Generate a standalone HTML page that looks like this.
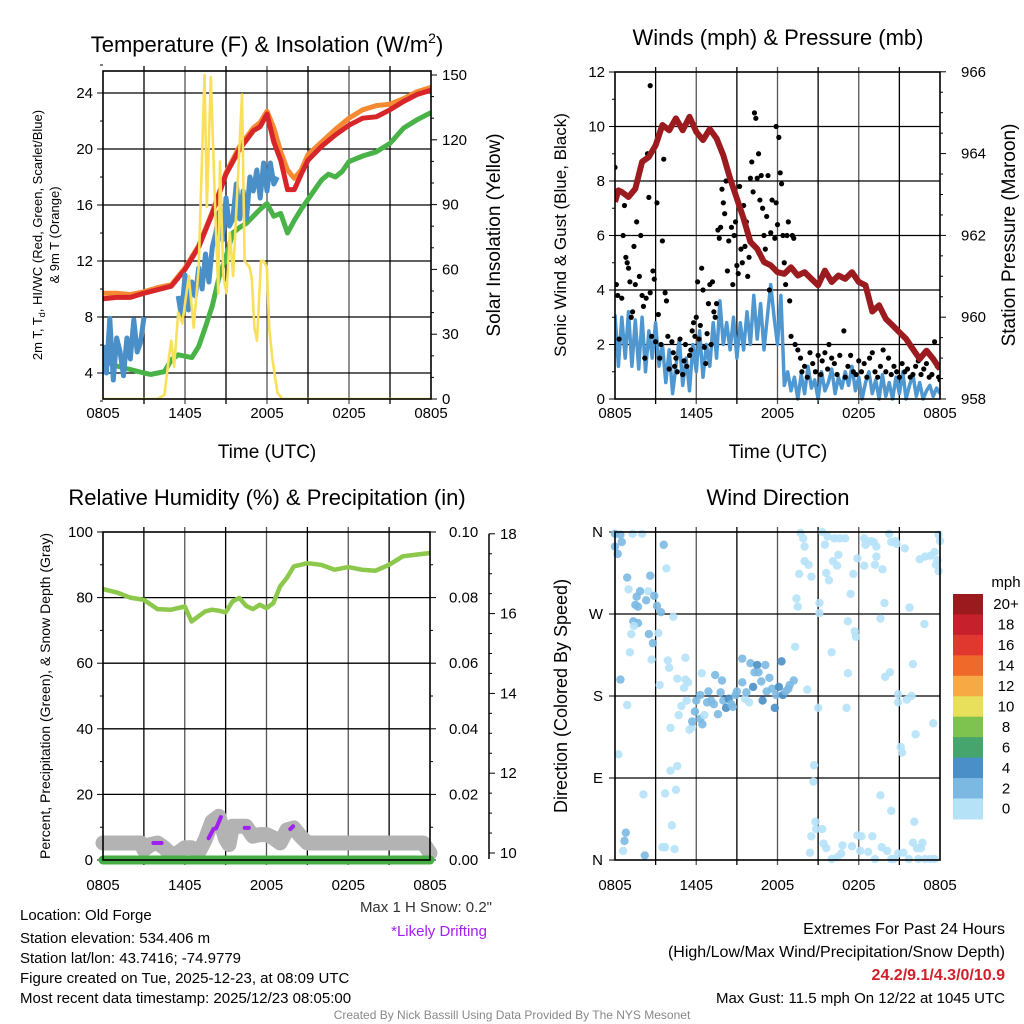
<!DOCTYPE html>
<html><head><meta charset="utf-8">
<style>
html,body{margin:0;padding:0;background:#fff;}
svg{display:block;font-family:"Liberation Sans",Arial,sans-serif;}
</style></head>
<body>
<svg id="fig" width="1024" height="1024" viewBox="0 0 1024 1024" xmlns="http://www.w3.org/2000/svg">
<rect width="1024" height="1024" fill="#fff"/>
<g id="layer"></g>
<!-- titles -->
<text x="267" y="52" font-size="22" text-anchor="middle">Temperature (F) &amp; Insolation (W/m<tspan font-size="14" dy="-9">2</tspan><tspan dy="9">)</tspan></text>
<text x="778" y="45" font-size="22" text-anchor="middle">Winds (mph) &amp; Pressure (mb)</text>
<text x="267" y="505" font-size="22" text-anchor="middle">Relative Humidity (%) &amp; Precipitation (in)</text>
<text x="778" y="505" font-size="22" text-anchor="middle">Wind Direction</text>
<text x="267" y="458" font-size="19" text-anchor="middle">Time (UTC)</text>
<text x="778" y="458" font-size="19" text-anchor="middle">Time (UTC)</text>
<text transform="translate(42,235) rotate(-90)" font-size="13" text-anchor="middle">2m T, T<tspan font-size="9" dy="3">d</tspan><tspan dy="-3">, HI/WC (Red, Green, Scarlet/Blue)</tspan></text>
<text transform="translate(59,235) rotate(-90)" font-size="13" text-anchor="middle">&amp; 9m T (Orange)</text>
<text transform="translate(500,235) rotate(-90)" font-size="19" text-anchor="middle">Solar Insolation (Yellow)</text>
<text transform="translate(566,235) rotate(-90)" font-size="17" text-anchor="middle">Sonic Wind &amp; Gust (Blue, Black)</text>
<text transform="translate(1015,235) rotate(-90)" font-size="19" text-anchor="middle">Station Pressure (Maroon)</text>
<text transform="translate(50,696) rotate(-90)" font-size="14" text-anchor="middle">Percent, Precipitation (Green), &amp; Snow Depth (Gray)</text>
<text transform="translate(567,696) rotate(-90)" font-size="18" text-anchor="middle">Direction (Colored By Speed)</text>
<!-- footer text -->
<g font-size="15" fill="#000">
<text x="20" y="920">Location: Old Forge</text>
<text x="20" y="943">Station elevation: 534.406 m</text>
<text x="20" y="963">Station lat/lon: 43.7416; -74.9779</text>
<text x="20" y="983">Figure created on Tue, 2025-12-23, at 08:09 UTC</text>
<text x="20" y="1003">Most recent data timestamp: 2025/12/23 08:05:00</text>
<text x="492" y="912" text-anchor="end" fill="#333">Max 1 H Snow: 0.2"</text>
<text x="487" y="936" text-anchor="end" fill="#a020f0">*Likely Drifting</text>
<text x="1005" y="934" text-anchor="end" font-size="16">Extremes For Past 24 Hours</text>
<text x="1005" y="957" text-anchor="end" font-size="16">(High/Low/Max Wind/Precipitation/Snow Depth)</text>
<text x="1005" y="980" text-anchor="end" font-size="16" font-weight="bold" fill="#d0202a">24.2/9.1/4.3/0/10.9</text>
<text x="1005" y="1003" text-anchor="end" font-size="15">Max Gust: 11.5 mph On 12/22 at 1045 UTC</text>
</g>
<text x="512" y="1019" text-anchor="middle" font-size="12" fill="#888">Created By Nick Bassill Using Data Provided By The NYS Mesonet</text>
</svg>
<script>
// ---------- DATA ----------
const timeLabels = ["0805","1405","2005","0205","0805"];
// Temperature panel (hours since 0805)
const tempHours = [0,1,2,3,4,5,6,7,8,9,10,11,11.5,12,12.5,13,13.5,14,14.5,15,16,17,18,19,20,21,22,23,24];
const tempRed   = [9.3,9.4,9.4,9.7,9.95,10.2,11.4,13.0,15.4,18.2,20.0,21.3,21.6,22.5,20.5,19.2,17.1,17.1,18.2,19.2,20.2,21.0,21.7,22.2,22.3,22.8,23.4,23.9,24.2];
const temp9m    = [9.7,9.7,9.6,9.8,10.1,10.3,11.5,13.1,15.5,18.3,20.2,21.5,21.9,22.7,21.5,19.8,18.5,17.9,18.5,19.6,20.5,21.4,22.2,22.8,23.1,23.2,23.6,24.1,24.4];
const dewHours  = [0,0.5,1,2,3,3.5,4,4.5,5,5.5,6,6.5,7,7.5,8,8.5,9,9.5,10,10.5,11,11.5,12,12.5,13,13.5,14,14.5,15,15.5,16,16.5,17,17.5,18,19,20,21,22,23,24];
const dewVals   = [4.95,4.7,4.5,4.25,4.0,3.9,4.0,4.1,4.95,5.3,5.2,5.1,5.9,7.3,8.8,10.9,12.3,14.0,14.4,14.7,15.2,15.7,16.1,15.2,15.4,14.0,14.9,15.7,16.4,17.1,17.8,18.2,18.0,18.4,19.1,19.5,19.8,20.4,21.5,22.1,22.6];
const hiwcVals  = [6.0,4.0,7.9,3.5,6.5,5.5,3.8,6.5,5.0,7.8,5.5,6.2,8.0,null,null,null,null,null,null,null,null,null,
  9.5,8.0,11.0,8.5,10.5,9.5,11.5,10.0,12.5,10.5,13.0,14.0,15.5,13.5,16.5,14.5,15.0,17.5,15.0,17.0,15.0,18.0,17.0,18.5,16.5,19.0,17.0,19.0,17.5,18.0];
const hiwcStep = 0.25;
const solarHours = [0,4.0,4.5,4.84,5.0,5.2,5.5,5.8,6.28,6.64,7.0,7.24,7.43,7.6,7.89,8.2,8.44,8.56,8.8,9.04,9.28,9.52,9.88,10.17,10.36,10.72,10.89,11.08,11.27,11.56,11.75,11.99,12.16,12.4,12.76,13.12,24];
const solarVals  = [0,0,2,20,27,15,40,35,57,33,61,110,150,89,149,89,49,110,57,49,77,57,103,141,64,61,56,33,27,64,64,61,33,18,3,0,0];
// Winds panel
const windVals = [3.1,1.2,3.0,1.5,3.2,1.2,2.9,1.1,3.0,1.0,2.5,1.5,2.8,1.2,2.0,0.6,1.8,0.2,1.2,2.2,0.5,1.5,0.3,2.0,
  1.0,2.5,0.8,2.0,1.2,2.8,1.5,3.6,2.0,2.8,1.8,3.0,1.5,2.8,1.8,3.2,2.0,3.8,2.2,3.5,1.8,3.0,4.2,3.0,2.0,3.8,
  0.5,1.0,0.3,0.8,0.0,0.9,0.2,1.2,0.4,0.7,0.0,1.0,0.3,0.6,1.1,0.2,0.8,0.4,1.0,0.5,1.2,0.3,0.8,0.0,0.6,1.0,0.2,0.7,0.0,0.9,0.1,0.6,0.0,0.8,0.2,1.0,0.0,0.5,0.9,0.1,0.6,0.0,0.3,0.5,0.1,0.4,0.2];
const gustHours = [0,0.1,0.2,0.3,0.5,0.6,0.7,0.8,0.9,1.0,1.1,1.2,1.3,1.4,1.5,1.6,1.8,1.9,2.0,2.1,2.2,2.3,2.4,2.5,2.6,2.6,2.7,2.8,2.9,3.0,3.1,3.2,3.3,3.4,3.5,3.6,3.7,3.8,3.9,
 4.0,4.2,4.3,4.4,4.5,4.6,4.8,5.0,5.1,5.2,5.3,5.5,5.6,5.7,5.8,5.9,6.0,6.1,6.2,6.3,6.4,6.5,6.6,6.7,6.8,6.9,7.0,7.1,7.2,7.3,7.4,7.5,
 7.6,7.7,7.8,7.9,8.0,8.1,8.2,8.3,8.4,8.5,8.6,8.7,8.8,8.9,9.0,9.1,9.2,9.3,9.4,9.5,9.6,9.7,9.8,9.9,10.0,10.1,10.2,10.3,10.4,10.5,10.6,10.7,10.8,10.9,11.0,11.1,11.2,11.3,11.4,11.5,11.6,11.8,11.9,11.9,12.0,12.1,12.2,12.3,12.4,12.5,12.6,12.7,12.8,12.9,13.0,13.1,13.2,
 13.3,13.5,13.7,13.8,14.0,14.2,14.4,14.6,14.8,15.0,15.2,15.3,15.5,15.7,15.8,16.0,16.2,16.4,16.6,16.9,17.0,17.2,17.4,17.6,17.8,18.0,18.2,18.4,18.6,18.8,19.0,19.2,19.4,19.6,19.8,20.0,20.2,20.4,20.6,20.8,21.0,21.2,21.4,21.6,21.8,22.0,22.2,22.4,22.6,22.8,23.0,23.2,23.4,23.6,23.8,23.9,24.0];
const gustVals = [8.5,4.2,3.8,2.2,3.7,6.0,7.1,5.2,5.0,4.8,4.3,3.0,3.2,5.6,4.2,6.5,4.5,6.0,3.8,3.4,1.5,3.7,9.0,7.4,3.9,11.5,2.3,4.7,4.4,2.1,7.2,3.1,1.5,2.0,5.8,8.8,3.9,3.6,2.3,
 1.1,2.1,1.7,1.2,1.5,1.0,2.2,0.9,1.4,2.0,1.2,1.6,1.8,2.5,2.8,2.3,3.0,4.3,2.2,2.7,4.8,4.0,1.9,1.3,2.4,3.5,4.2,2.0,4.3,3.2,3.0,3.5,
 6.2,5.9,6.3,7.7,7.2,6.8,8.0,4.7,5.8,8.0,6.3,4.2,6.0,6.5,4.9,4.6,7.8,5.5,5.0,7.1,5.6,6.5,4.5,5.2,8.1,8.7,7.6,10.5,10.3,8.1,9.0,7.3,8.2,7.0,6.0,5.5,6.7,8.2,4.0,6.1,7.3,5.9,7.2,10.0,6.4,9.6,8.3,7.9,6.0,5.0,4.2,6.0,6.5,3.6,2.3,6.0,5.9,
 2.0,1.8,1.5,1.0,1.2,0.8,1.7,1.3,1.0,1.6,0.9,1.4,1.7,1.1,2.0,1.5,1.3,0.9,1.6,2.5,0.8,1.2,1.6,1.0,0.9,1.4,1.0,1.3,0.8,1.5,1.7,1.0,0.8,1.2,1.8,1.0,1.5,0.9,1.2,1.0,0.8,1.3,1.0,1.1,0.8,0.9,1.2,1.4,0.9,1.1,1.3,0.8,0.9,2.1,1.2,0.8,0.7];
const presHours = [0,0.25,0.5,1,1.5,2,2.5,3,3.5,4,4.5,5,5.5,6,6.5,7,7.5,8,8.5,9,9.5,10,10.5,11,11.5,12,12.5,13,13.5,14,14.5,15,15.5,16,16.5,17,17.5,18,18.5,19,19.5,20,20.5,21,21.5,22,22.5,23,23.5,24];
const presVals  = [962.82,963.1,963.06,962.94,963.14,963.8,963.92,964.2,964.7,964.57,964.86,964.57,964.9,964.53,964.33,964.6,964.37,963.96,963.39,962.9,962.41,961.84,961.67,961.35,961.27,961.1,961.06,961.22,961.02,961.1,960.94,960.78,961.14,960.86,961.02,960.94,961.1,960.86,960.78,960.14,960.29,959.96,959.8,959.63,959.47,959.22,958.98,959.18,958.98,958.73];
// RH panel
const rhHours = [0,1,2,3,4,5,6,6.5,7,7.5,8,8.5,9,9.5,10,10.5,11,11.5,12,12.5,13,13.5,14,14.5,15,16,17,18,19,20,21,22,23,24];
const rhVals  = [82.6,81.6,80.0,79.3,76.5,76.3,77.3,72.7,74.3,75.8,76.3,76.0,75.5,78.8,79.9,77.5,76.5,77.8,76.8,78.3,83.4,86.0,89.5,90.0,90.5,90.0,88.5,89.3,88.5,88.2,90.0,92.6,93.1,93.6];
const precipHours = [0,24];
const precipVals  = [0,0];
const snowHours = [0,2.8,3,3.5,4,4.5,5,5.5,6,6.5,7,7.5,8,8.5,9,9.25,9.5,10,10.5,11,11.5,12,12.5,13,13.5,14,14.5,15,23.5,24];
const snowVals  = [10.25,10.25,10.08,10.21,10.25,10.13,9.96,10.0,10.13,10.13,10.0,10.33,10.79,10.92,10.35,10.21,10.67,10.67,10.67,10.42,10.46,10.46,10.38,10.25,10.58,10.63,10.42,10.25,10.25,10.0];
const driftSegHours = [[3.7,4.3],[7.75,8.1,8.3,8.65],[10.4,10.7],[13.75,13.95]];
const driftSegVals  = [[10.25,10.25],[10.37,10.6,10.62,10.9],[10.63,10.63],[10.6,10.67]];
// Wind direction panel
const dirHours = [0,0.4,0.5,0,0.2,1.3,2.0,3.6,3.8,0.9,2.6,1.0,1.85,1.6,2.46,2.9,2.3,1.5,1.7,3.1,3.4,4.3,1.35,1.7,1.4,1.2,2.5,3.2,2.8,1.1,2.7,0.4,0.9,0.25,3.3,3.9,4.0,5.2,4.6,5.2,5.4,5.1,6.4,
 5.3,4.9,4.7,4.1,5.5,5.7,5.7,5.9,6.0,6.3,6.45,6.3,6.6,6.8,6.9,7.1,7.3,7.4,7.6,7.8,7.9,8.0,8.2,8.4,8.6,8.7,9.0,8.9,9.4,9.4,9.6,9.7,9.9,10.0,10.2,10.3,10.5,10.6,10.8,10.9,11.1,11.2,11.4,11.6,11.8,11.9,12.1,12.3,12.4,12.6,12.8,12.9,13.2,13.3,14.2,15.0,17.1,16.0,17.2,
 13.7,13.9,14.0,14.0,14.3,13.6,14.5,13.4,13.5,15.3,15.5,15.7,16.2,16.6,17.0,16.5,16.1,16.4,15.6,15.8,15.1,15.1,17.4,17.9,17.6,18.4,18.5,18.4,18.9,19.1,19.3,19.3,19.2,19.75,19.9,19.6,20.25,20.4,20.7,20.8,21.4,21.75,22.5,22.9,23.3,23.6,23.8,23.9,24,23.7,23.9,22.85,17.2,17.7,17.8,
 20.3,19.95,20.9,20.9,21.55,21.9,22.0,22.2,23.5,21.1,21.2,14.7,14.65,19.6,20.4,22.1,
 14.8,14.85,15.3,14.5,14.4,15.4,15.6,16.0,16.4,16.7,16.8,17.5,17.9,18.2,18.1,18.7,19.0,19.2,19.7,20.1,20.4,20.9,21.3,21.7,22.0,22.3,22.4,22.7,22.6,22.9,23.3,23.6,20.6,
 0.8,0.7,0.6,2.2,3.5,3.7,4.4,2.1,3.7,4.5,4.2,4.1,4.6];
const dirDegs = [358,357,349,344,336,358,358,346,320,310,312,297,295,289,295,290,285,280,278,279,272,267,262,260,257,248,248,249,238,228,220,198,170,116,192,219,211,222,199,198,195,189,205,
 175,169,159,145,143,146,152,163,175,181,149,155,159,173,185,175,171,203,160,184,197,175,167,177,171,168,185,181,195,221,177,184,173,216,190,206,214,206,196,175,214,185,200,188,167,181,190,218,181,185,188,192,197,234,187,167,167,228,205,
 359,353,344,328,324,314,311,287,278,360,346,355,353,353,353,335,328,323,315,307,282,271,292,331,314,353,346,323,350,349,344,333,324,319,282,265,358,349,350,347,342,277,330,333,334,338,329,357,350,324,317,259,262,251,245,
 206,201,182,173,176,180,215,138,150,124,118,104,86,71,54,42,
 42,34,34,26,8,18,13,1,3,7,16,15,27,26,10,9,26,1,14,10,1,7,8,1,19,13,1,19,13,1,1,1,1,
 30,21,10,5,14,14,12,72,73,77,38,98,103];
const dirSpeeds = [3,3,3,3,3,1,1,3,1,3,3,1,3,3,1,3,3,3,3,3,3,1,3,3,1,1,3,1,3,1,1,3,1,1,1,1,1,1,1,1,1,1,1,
 1,1,1,1,1,1,3,3,3,3,3,3,1,3,3,3,3,3,3,3,3,3,5,5,3,3,3,3,3,3,1,3,1,3,5,3,5,3,3,5,3,3,3,3,5,3,5,5,5,3,3,3,3,1,1,1,1,1,1,
 1,1,1,1,1,1,1,1,1,1,1,1,1,1,1,1,1,1,1,1,1,1,1,1,1,1,1,1,1,1,1,1,1,1,1,1,1,1,1,1,1,1,1,1,1,1,1,1,1,1,1,1,1,1,1,
 1,1,1,1,1,1,1,1,1,1,1,1,1,1,1,1,
 1,1,1,1,1,1,1,1,1,1,1,1,1,1,1,1,1,1,1,1,1,1,1,1,1,1,1,1,1,1,1,1,1,
 3,3,1,3,1,1,1,1,1,1,1,1,1];
const speedBins   = [0,2,4,6,8,10,12,14,16,18,20];
const speedLabels = ["0","2","4","6","8","10","12","14","16","18","20+"];
const speedColors = ["#b6e2f8","#7bb9e3","#4a8fc7","#46a46d","#7ec24f","#e8df5a","#f7a943","#ef6a2a","#e0382f","#c5202b","#9a1a1e"];

// ---------- DRAWING ----------
const NS = "http://www.w3.org/2000/svg";
const layer = document.getElementById('layer');
function mk(tag, attrs, parent){
  const e = document.createElementNS(NS, tag);
  for (const k in attrs) e.setAttribute(k, attrs[k]);
  (parent||layer).appendChild(e);
  return e;
}
function txt(x,y,s,size,anchor,parent){
  const t = mk('text',{x:x,y:y,'font-size':size,'text-anchor':anchor||'middle'},parent);
  t.textContent = s;
  return t;
}
function linePath(xs, ys, sx, sy){
  let d = '', pen = false;
  for (let i=0;i<xs.length;i++){
    if (ys[i]===null || ys[i]===undefined){ pen=false; continue; }
    d += (pen?'L':'M') + sx(xs[i]).toFixed(1) + ',' + sy(ys[i]).toFixed(1);
    pen = true;
  }
  return d;
}
function frame(L,T,R,B,hGrid,name){
  const g = mk('g',{});
  
  
  for (let i=1;i<8;i++){
    const x = L + (R-L)*i/8;
    mk('line',{x1:x,y1:T-5,x2:x,y2:B+5,stroke:(i%2?'#000':'#555'),'stroke-width':1.3},g);
  }
  hGrid.forEach(y=>mk('line',{x1:L,y1:y,x2:R,y2:y,stroke:'#000','stroke-width':1.3},g));
  return g;
}
function border(L,T,R,B){
  mk('rect',{x:L,y:T,width:R-L,height:B-T,fill:'none',stroke:'#000','stroke-width':1.6});
}
function xLabels(L,R,y){
  timeLabels.forEach((s,i)=>{
    const t = txt(L+(R-L)*i/4, y, s, 15);
    
    
  });
}

// Panel 1: temperature
(function(){
  const L=103,R=431,T=71,B=399;
  const sx = h => L + (R-L)*h/24;
  const sy = v => 373 - (v-4)*14;
  const sr = w => 399 - w*(324/150);
  const grid = [4,8,12,16,20,24].map(sy);
  frame(L,T,R,B,grid,'temp-grid');
  for (let v=4; v<=24; v+=4){
    mk('line',{x1:L-6,y1:sy(v),x2:L,y2:sy(v),stroke:'#000'});
    const t = txt(L-10, sy(v)+5, String(v), 15, 'end');
    
    
  }
  for (let v=2; v<=26; v+=2){ if (v%4) mk('line',{x1:L-3,y1:sy(v),x2:L,y2:sy(v),stroke:'#000'}); }
  for (let w=0; w<=150; w+=10){
    const maj = w%30===0;
    mk('line',{x1:R,y1:sr(w),x2:R+(maj?6:3),y2:sr(w),stroke:'#000'});
    if (maj){
      const t = txt(R+11, sr(w)+5, String(w), 15, 'start');
      
      
    }
  }
  const clip = mk('clipPath',{id:'c1'}); mk('rect',{x:L,y:T,width:R-L,height:B-T},clip);
  const g = mk('g',{'clip-path':'url(#c1)'});
  const p1 = mk('path',{d:linePath(tempHours,temp9m,sx,sy),fill:'none',stroke:'#f58a33','stroke-width':5,'stroke-linejoin':'round'},g);
   
  const p2 = mk('path',{d:linePath(tempHours,tempRed,sx,sy),fill:'none',stroke:'#d7262a','stroke-width':5,'stroke-linejoin':'round'},g);
   
  const p3 = mk('path',{d:linePath(dewHours,dewVals,sx,sy),fill:'none',stroke:'#49b347','stroke-width':5,'stroke-linejoin':'round'},g);
   
  const hh = hiwcVals.map((v,i)=>i*hiwcStep);
  const p4 = mk('path',{d:linePath(hh,hiwcVals,sx,sy),fill:'none',stroke:'#4a8fc7','stroke-width':5,'stroke-linejoin':'round'},g);
   
  const p5 = mk('path',{d:linePath(solarHours,solarVals,sx,sr),fill:'none',stroke:'#f9e05a','stroke-width':2.6,'stroke-linejoin':'round'},g);
   
  border(L,T,R,B);
  xLabels(L,R,418);
})();

// Panel 2: winds
(function(){
  const L=615,R=940,T=72,B=399;
  const sx = h => L + (R-L)*h/24;
  const sy = v => B - v*27.25;
  const sp = p => B - (p-958)*40.9;
  const grid = [2,4,6,8,10].map(sy);
  frame(L,T,R,B,grid,'wind-grid');
  for (let v=0; v<=12; v+=2){
    mk('line',{x1:L-6,y1:sy(v),x2:L,y2:sy(v),stroke:'#000'});
    if (v<12) mk('line',{x1:L-3,y1:sy(v+1),x2:L,y2:sy(v+1),stroke:'#000'});
    const t = txt(L-10, sy(v)+5, String(v), 15, 'end');
    
    
  }
  for (let p=958; p<=966; p+=0.5){
    const maj = Math.abs(p%2)<0.01;
    mk('line',{x1:R,y1:sp(p),x2:R+(maj?6:3),y2:sp(p),stroke:'#000'});
    if (maj){
      const t = txt(R+21, sp(p)+5, String(p), 15, 'start');
      
      
    }
  }
  const clip = mk('clipPath',{id:'c2'}); mk('rect',{x:L,y:T,width:R-L,height:B-T+2},clip);
  const g = mk('g',{'clip-path':'url(#c2)'});
  const wh = windVals.map((v,i)=>i*24/(windVals.length-1));
  const pw = mk('path',{d:linePath(wh,windVals,sx,sy),fill:'none',stroke:'#4f97d0','stroke-width':3.5,'stroke-linejoin':'round'},g);
   
  gustHours.forEach((h,i)=>{
    const c = mk('circle',{cx:sx(h),cy:sy(gustVals[i]),r:2.6,fill:'#000'},g);
    
    
  });
  const pp = mk('path',{d:linePath(presHours,presVals,sx,sp),fill:'none',stroke:'#9b1b1e','stroke-width':6,'stroke-linejoin':'round'},g);
   
  border(L,T,R,B);
  xLabels(L,R,418);
})();

// Panel 3: RH
(function(){
  const L=103,R=430,T=532,B=860;
  const sx = h => L + (R-L)*h/24;
  const sy = v => B - v*3.28;
  const ss = s => 853 - (s-10)*39.9;
  const grid = [20,40,60,80].map(sy);
  frame(L,T,R,B,grid,'rh-grid');
  for (let v=0; v<=100; v+=10){
    const maj = v%20===0;
    mk('line',{x1:L-(maj?6:3),y1:sy(v),x2:L,y2:sy(v),stroke:'#000'});
    mk('line',{x1:R,y1:sy(v),x2:R+(maj?6:3),y2:sy(v),stroke:'#000'});
    if (maj){
      const t = txt(L-10, sy(v)+5, String(v), 15, 'end');
       
      const t2 = txt(R+19, sy(v)+5, (v/1000).toFixed(2), 15, 'start');
       
    }
  }
  const ax = mk('line',{x1:489,y1:ss(18),x2:489,y2:ss(9.85),stroke:'#000','stroke-width':1.5});
   
  for (let s=10; s<=18; s+=0.5){
    const maj = Math.abs(s%2)<0.01;
    mk('line',{x1:489,y1:ss(s),x2:489+(maj?6:3),y2:ss(s),stroke:'#000'});
    if (maj){
      const t = txt(500, ss(s)+5, String(s), 15, 'start');
       
    }
  }
  const g = mk('g',{});
  const pg = mk('path',{d:linePath(snowHours,snowVals,sx,ss),fill:'none',stroke:'#b3b3b3','stroke-width':15,'stroke-linejoin':'round','stroke-linecap':'round'},g);
   
  driftSegHours.forEach((hs,i)=>{
    const d = mk('path',{d:linePath(hs,driftSegVals[i],sx,ss),fill:'none',stroke:'#a020f0','stroke-width':4,'stroke-linecap':'round'},g);
     
  });
  const pr = mk('path',{d:linePath(precipHours,precipVals,sx,v=>sy(v*1000)),fill:'none',stroke:'#46ad45','stroke-width':9,'stroke-linecap':'round'},g);
   
  const ph = mk('path',{d:linePath(rhHours,rhVals,sx,sy),fill:'none',stroke:'#8cc84b','stroke-width':4.5,'stroke-linejoin':'round'},g);
   
  border(L,T,R,B);
  xLabels(L,R,890);
})();

// Panel 4: wind direction
(function(){
  const L=615,R=940,T=532,B=860;
  const sx = h => L + (R-L)*h/24;
  const sy = d => B - d*(B-T)/360;
  const grid = [90,180,270].map(sy);
  frame(L,T,R,B,grid,'dir-grid');
  const dl = ["N","E","S","W","N"];
  dl.forEach((s,i)=>{
    const y = sy(i*90);
    mk('line',{x1:L-6,y1:y,x2:L,y2:y,stroke:'#000'});
    const t = txt(L-12, y+5, s, 15, 'end');
     
  });
  function colorFor(s){
    let k=0; for (let i=0;i<speedBins.length;i++) if (s>=speedBins[i]) k=i;
    return speedColors[k];
  }
  const g = mk('g',{});
  dirHours.forEach((h,i)=>{
    const c = mk('circle',{cx:sx(h),cy:sy(dirDegs[i]),r:4.2,fill:colorFor(dirSpeeds[i]),'fill-opacity':0.9},g);
    
    
  });
  border(L,T,R,B);
  xLabels(L,R,890);
  // colorbar
  const cb = mk('g',{});
  
  
  const bx=953, bw=30, top=594, bh=20.45;
  const n = speedColors.length;
  for (let i=0;i<n;i++){
    const idx = n-1-i;
    const r = mk('rect',{x:bx,y:top+i*bh,width:bw,height:bh+0.5,fill:speedColors[idx]},cb);
     
    const t = txt(1006, top+i*bh+bh/2+5, speedLabels[idx], 15, 'middle', cb);
     
  }
  const u = txt(1006, 587, 'mph', 15, 'middle', cb);
   
})();
</script>
</body></html>
